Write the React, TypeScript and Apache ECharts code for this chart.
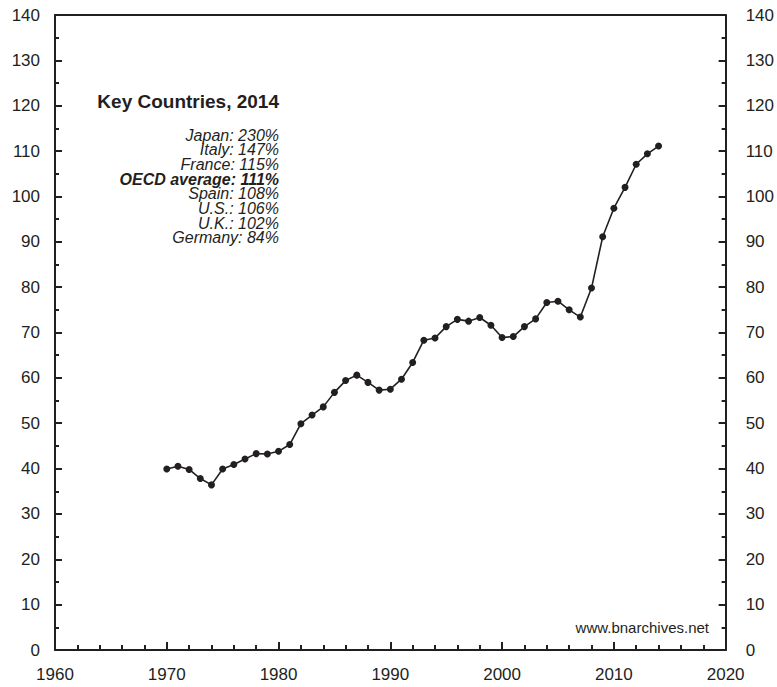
import React, { useEffect, useRef } from "react";
import * as echarts from "echarts";

const years = [
  1970, 1971, 1972, 1973, 1974, 1975, 1976, 1977, 1978, 1979,
  1980, 1981, 1982, 1983, 1984, 1985, 1986, 1987, 1988, 1989,
  1990, 1991, 1992, 1993, 1994, 1995, 1996, 1997, 1998, 1999,
  2000, 2001, 2002, 2003, 2004, 2005, 2006, 2007, 2008, 2009,
  2010, 2011, 2012, 2013, 2014,
];
const debtValues = [
  39.9, 40.5, 39.8, 37.8, 36.4, 39.9, 40.9, 42.1, 43.3, 43.2,
  43.8, 45.3, 49.9, 51.8, 53.6, 56.8, 59.4, 60.6, 59.0, 57.3,
  57.5, 59.7, 63.4, 68.3, 68.8, 71.3, 72.9, 72.5, 73.3, 71.6,
  68.9, 69.1, 71.3, 73.0, 76.6, 76.9, 75.0, 73.4, 79.8, 91.1,
  97.4, 102.0, 107.1, 109.4, 111.1,
];
const noteTitle = "Key Countries, 2014";
const noteLines = [
  "Japan: 230%",
  "Italy: 147%",
  "France: 115%",
  "OECD average: 111%",
  "Spain: 108%",
  "U.S.: 106%",
  "U.K.: 102%",
  "Germany: 84%",
];
const boldLine = "OECD average: 111%";
const sourceText = "www.bnarchives.net";

const INK = "#231f20";
const FONT = "Liberation Sans";

export default function App() {
  const ref = useRef<HTMLDivElement>(null);
  useEffect(() => {
    if (!ref.current) return;
    const chart = echarts.init(ref.current, null, { renderer: "svg" });
    const yAxisBase = (pos: "left" | "right") => ({
      type: "value",
      position: pos,
      min: 0,
      max: 140,
      interval: 10,
      axisLine: { show: true, lineStyle: { color: INK, width: 2 } },
      axisTick: { show: true, inside: true, length: 7, lineStyle: { color: INK, width: 2 } },
      minorTick: { show: true, splitNumber: 2, length: 4, lineStyle: { color: INK, width: 2 } },
      splitLine: { show: false },
      axisLabel: {
        color: INK,
        fontSize: 17,
        fontFamily: FONT,
        margin: pos === "left" ? 15 : 20,
      },
    });
    const graphics: any[] = [
      {
        type: "text",
        x: 279,
        y: 101,
        style: {
          text: noteTitle,
          fontSize: 19,
          lineHeight: 19,
          fontWeight: "bold",
          fontFamily: FONT,
          fill: INK,
          align: "right",
          verticalAlign: "middle",
        },
      },
    ];
    noteLines.forEach((t, i) => {
      const bold = t === boldLine;
      graphics.push({
        type: "text",
        x: 279,
        y: 135 + i * 14.7,
        style: {
          text: t,
          fontSize: 16,
          lineHeight: 14,
          fontStyle: "italic",
          fontWeight: bold ? "bold" : "normal",
          fontFamily: FONT,
          fill: INK,
          align: "right",
          verticalAlign: "middle",
        },
      });
    });
    graphics.push({
      type: "text",
      x: 709,
      y: 627,
      style: {
        text: sourceText,
        fontSize: 15,
        fontFamily: FONT,
        fill: INK,
        align: "right",
        verticalAlign: "middle",
      },
    });
    chart.setOption({
      animation: false,
      backgroundColor: "#ffffff",
      grid: { left: 55, right: 46, top: 15, bottom: 37, containLabel: false },
      xAxis: [
        {
          type: "value",
          position: "bottom",
          min: 1960,
          max: 2020,
          interval: 10,
          axisLine: { show: true, onZero: false, lineStyle: { color: INK, width: 2 } },
          axisTick: { show: true, inside: true, length: 8, lineStyle: { color: INK, width: 2 } },
          minorTick: { show: true, splitNumber: 5, length: 5, lineStyle: { color: INK, width: 2 } },
          splitLine: { show: false },
          axisLabel: {
            color: INK,
            fontSize: 17,
            fontFamily: FONT,
            margin: 16,
            formatter: (v: number) => String(v),
          },
        },
        {
          type: "value",
          position: "top",
          min: 1960,
          max: 2020,
          axisLine: { show: true, onZero: false, lineStyle: { color: INK, width: 2 } },
          axisTick: { show: false },
          axisLabel: { show: false },
          splitLine: { show: false },
        },
      ],
      yAxis: [yAxisBase("left"), yAxisBase("right")],
      series: [
        {
          type: "line",
          data: years.map((y, i) => [y, debtValues[i]]),
          symbol: "circle",
          symbolSize: 7,
          lineStyle: { color: INK, width: 1.6 },
          itemStyle: { color: INK },
        },
      ],
      graphic: graphics,
    });
    return () => chart.dispose();
  }, []);
  return (
    <div
      ref={ref}
      style={{ position: "fixed", left: 0, top: 0, width: 777, height: 687, background: "#fff" }}
    />
  );
}
